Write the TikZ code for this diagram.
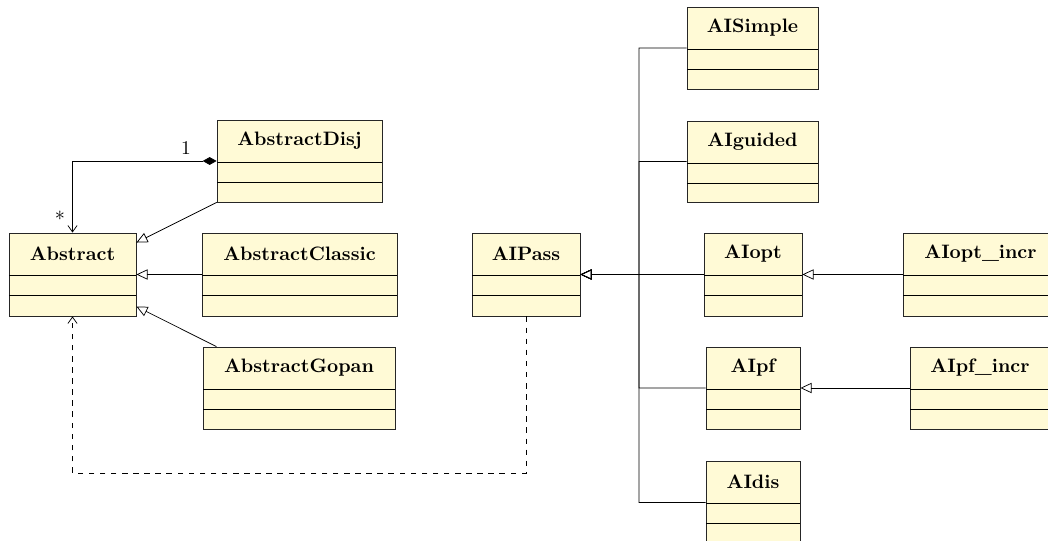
\documentclass[tikz,border=0pt]{standalone}
\usetikzlibrary{fit,arrows.meta}
\definecolor{umlfill}{RGB}{255,250,214}
\tikzset{
  clsbox/.style={draw=black!85, fill=umlfill, inner sep=0pt, line width=0.45pt},
  clstitle/.style={font=\fontsize{10.5}{12}\selectfont\bfseries, inner sep=0pt},
  sepline/.style={draw=black, line width=0.4pt},
  inherit/.style={draw=black, line width=0.4pt, -{Triangle[open,length=6pt,width=5.5pt]}},
  comp/.style={draw=black, line width=0.4pt, {Diamond[length=7.5pt,width=4.2pt]}-{Straight Barb[length=3.5pt,width=5pt]}},
  dep/.style={draw=black, line width=0.4pt, dashed, -{Straight Barb[length=3.5pt,width=5pt]}},
  mult/.style={inner sep=0pt, font=\fontsize{10.5}{12}\selectfont}
}
\newcommand{\umlcls}[6]{%
  \node[clsbox, fit={(#2,#3) (#4,#5)}] (#1) {};
  \node[clstitle] (#1-title) at ({(#2+#4)/2},{#3+21}) {#6};
  \draw[sepline] (#2,{#3+42}) -- (#4,{#3+42});
  \draw[sepline] (#2,{#3+62}) -- (#4,{#3+62});
}
\begin{document}
\begin{tikzpicture}[x=0.019cm, y=-0.019cm]
\useasboundingbox (0,0) rectangle (1048,541);
\clip (0,0) rectangle (1048,541);

\umlcls{Abstract}{9}{233}{136}{316}{Abstract}
\umlcls{AbstractDisj}{217}{120}{382}{202}{AbstractDisj}
\umlcls{AbstractClassic}{202}{233}{397}{316}{AbstractClassic}
\umlcls{AbstractGopan}{203}{347}{395}{429}{AbstractGopan}
\umlcls{AIPass}{472}{233}{580}{316}{AIPass}
\umlcls{AISimple}{687}{7}{818}{89}{AISimple}
\umlcls{AIguided}{687}{121}{818}{202}{AIguided}
\umlcls{AIopt}{704}{233}{802}{316}{AIopt}
\umlcls{AIoptincr}{903}{233}{1058}{316}{AIopt\_incr}
\umlcls{AIpf}{706}{347}{800}{429}{AIpf}
\umlcls{AIpfincr}{910}{347}{1050}{429}{AIpf\_incr}
\umlcls{AIdis}{706}{461}{800}{544}{AIdis}

% composition
\draw[comp] (AbstractDisj.west) -| (Abstract.north);
\node[mult] (m1) at (186,148) {1};
\node[mult] (m2) at (60,216) {$*$};

% inheritance in the Abstract family
\draw[inherit] (AbstractDisj) -- (Abstract);
\draw[inherit] (AbstractClassic) -- (Abstract);
\draw[inherit] (AbstractGopan) -- (Abstract);

% dependency
\coordinate (dbend) at (0,473);
\draw[dep] (AIPass.south) -- (AIPass.south |- dbend) -- (Abstract.south |- dbend) -- (Abstract.south);

% AIPass family
\coordinate (trunk) at (639,274.5);
\draw[inherit] (AISimple.west) -| (trunk) -- (AIPass.east);
\draw[inherit] (AIguided.west) -| (trunk) -- (AIPass.east);
\draw[inherit] (AIopt.west) -- (AIPass.east);
\draw[inherit] (AIpf.west) -| (trunk) -- (AIPass.east);
\draw[inherit] (AIdis.west) -| (trunk) -- (AIPass.east);
\draw[inherit] (AIoptincr.west |- AIopt.east) -- (AIopt.east);
\draw[inherit] (AIpfincr.west |- AIpf.east) -- (AIpf.east);
\end{tikzpicture}
\end{document}
